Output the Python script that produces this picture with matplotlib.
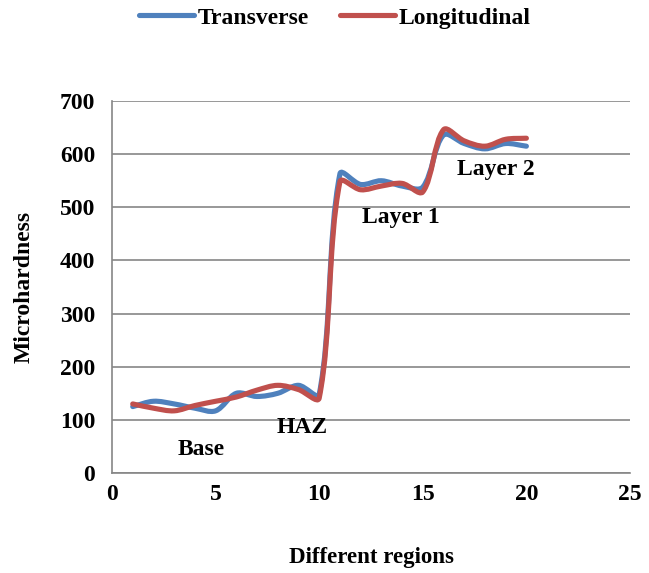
import matplotlib.pyplot as plt
import numpy as np
from matplotlib.path import Path
from matplotlib.patches import PathPatch
from matplotlib.lines import Line2D

regions = list(range(1, 21))
transverse = [125, 135, 130, 122, 117, 150, 144, 150, 165, 148,
              563, 543, 550, 540, 538, 636, 620, 610, 620, 615]
longitudinal = [130, 122, 117, 127, 135, 143, 156, 165, 157, 141,
                548, 533, 540, 545, 529, 646, 625, 615, 628, 630]

labels = ['Base', 'HAZ', 'Layer 1', 'Layer 2']
label_x = [4.3, 9.2, 13.95, 18.5]
label_y = [45, 85, 480, 572]

BLUE = '#4F81BD'
RED = '#C0504D'


def smooth_path(ax, xs, ys):
    # Excel style smoothed line, tangents split by segment length in pixels
    pts = np.column_stack([xs, ys]).astype(float)
    pix = ax.transData.transform(pts)
    n = len(pts)
    before, after = [], []
    for i in range(n):
        p_prev = pts[max(i - 1, 0)]
        p_next = pts[min(i + 1, n - 1)]
        d_prev = np.hypot(*(pix[i] - pix[max(i - 1, 0)]))
        d_next = np.hypot(*(pix[min(i + 1, n - 1)] - pix[i]))
        tot = d_prev + d_next
        tan = p_next - p_prev
        k = 1.0 / 3.0
        before.append(pts[i] - tan * k * d_prev / tot)
        after.append(pts[i] + tan * k * d_next / tot)
    verts = [pts[0]]
    codes = [Path.MOVETO]
    for i in range(n - 1):
        verts += [after[i], before[i + 1], pts[i + 1]]
        codes += [Path.CURVE4] * 3
    return Path(verts, codes)


def main():
    plt.rcParams['font.family'] = ['Liberation Serif', 'DejaVu Serif']
    plt.rcParams['font.weight'] = 'bold'

    fig = plt.figure(figsize=(6.49, 5.73), dpi=100)
    ax = fig.add_axes([0.1726, 0.1745, 0.7981, 0.6492])
    ax.set_xlim(0, 25)
    ax.set_ylim(0, 700)

    for ys, col in [(transverse, BLUE), (longitudinal, RED)]:
        ax.add_patch(PathPatch(smooth_path(ax, regions, ys), fill=False,
                               edgecolor=col, lw=3.7, capstyle='round',
                               joinstyle='round', zorder=3))

    ax.set_xticks(range(0, 26, 5))
    ax.set_yticks(range(0, 701, 100))
    ax.tick_params(length=0, labelsize=17)
    ax.tick_params(axis='y', pad=12)
    ax.tick_params(axis='x', pad=8)
    for t in ax.get_xticklabels() + ax.get_yticklabels():
        t.set_fontweight('bold')
    ax.grid(axis='y', color='#868686', lw=1.2)
    ax.set_axisbelow(True)
    for s in ['top', 'right']:
        ax.spines[s].set_visible(False)
    for s in ['left', 'bottom']:
        ax.spines[s].set_color('#868686')
        ax.spines[s].set_linewidth(1.2)

    ax.set_xlabel('Different regions', fontsize=16.5, fontweight='bold', va='center')
    ax.xaxis.set_label_coords(0.5, -0.228)
    ax.set_ylabel('Microhardness', fontsize=17, fontweight='bold', va='center')
    ax.yaxis.set_label_coords(-0.17, 0.5)

    for lab, x, y in zip(labels, label_x, label_y):
        ax.text(x, y, lab, fontsize=17, fontweight='bold', ha='center', va='center')

    handles = [Line2D([], [], color=BLUE, lw=3.7, solid_capstyle='round'),
               Line2D([], [], color=RED, lw=3.7, solid_capstyle='round')]
    fig.legend(handles, ['Transverse', 'Longitudinal'], loc='center',
               bbox_to_anchor=(0.516, 0.969), ncol=2, frameon=False,
               prop={'size': 17, 'weight': 'bold'}, handlelength=2.3,
               handletextpad=0.15, columnspacing=1.35)

    fig.savefig('out.png', dpi=100)


if __name__ == '__main__':
    main()
